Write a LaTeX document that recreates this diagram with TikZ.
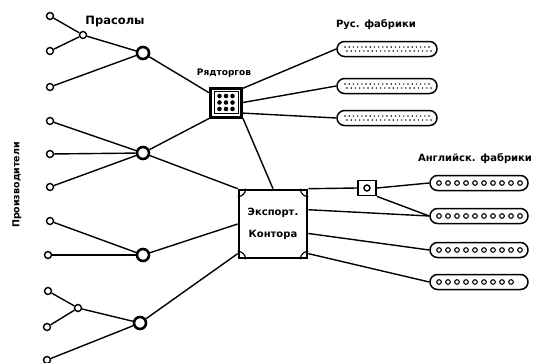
\documentclass[tikz,border=0pt]{standalone}
\usepackage{fontspec}
\setmainfont{DejaVu Sans}
\usetikzlibrary{shapes.misc, positioning, calc}

\tikzset{
  leaf/.style={circle, draw, line width=1.4pt, fill=white, inner sep=0pt, minimum size=7pt},
  hub/.style={circle, draw, line width=2.6pt, fill=white, inner sep=0pt, minimum size=12pt},
  fabpill/.style={rounded rectangle, draw, line width=1.5pt, inner sep=0pt, minimum height=15pt},
  lbl/.style={font=\bfseries\fontsize{10}{12}\selectfont, inner sep=0pt},
  link/.style={line width=1.4pt},
}

\begin{document}
\begin{tikzpicture}[x=1pt, y=-1pt]
    \useasboundingbox (0,0) rectangle (535,362);

    % производители (мелкие кружки)
    \node[leaf] (l1)  at (50,16)  {};
    \node[leaf] (l2)  at (50,51)  {};
    \node[leaf] (l3)  at (50,87)  {};
    \node[leaf] (l4)  at (50,121) {};
    \node[leaf] (l5)  at (50,154) {};
    \node[leaf] (l6)  at (50,187) {};
    \node[leaf] (l7)  at (50,221) {};
    \node[leaf] (l8)  at (48,255) {};
    \node[leaf] (l9)  at (48,291) {};
    \node[leaf] (l10) at (47,327) {};
    \node[leaf] (l11) at (47,360) {};

    % прасолы
    \node[leaf] (m1) at (83,35)  {};
    \node[leaf] (m2) at (78,308) {};

    % узлы
    \node[hub] (h1) at (143,53)  {};
    \node[hub] (h2) at (143,153) {};
    \node[hub] (h3) at (143,255) {};
    \node[hub] (h4) at (140,323) {};

    % рядторгов
    \node[draw, line width=3pt, minimum width=31pt, minimum height=29pt] (ryad) at (226,102.5) {};
    \draw[line width=0.9pt] ([shift={(-12pt,-11pt)}]ryad.center) rectangle ([shift={(12pt,11pt)}]ryad.center);
    \foreach \i in {-1,0,1}
      \foreach \j in {-1,0,1}
        \fill ([shift={(\i*6.5pt,\j*6.5pt)}]ryad.center) circle (2.3pt);

    % экспортная контора
    \node[draw, line width=2.6pt, minimum width=68pt, minimum height=68pt, align=center,
          font=\bfseries\fontsize{10}{12}\selectfont] (export) at (273,224) {Экспорт.\\[10pt]Контора};
    \foreach \c/\sx/\sy in {north west/1/1, north east/-1/1, south west/1/-1, south east/-1/-1}
      \draw[line width=1.2pt] ($(export.\c)+(8*\sx,0)$) .. controls +(0,4.4*\sy) and +(4.4*\sx,0) .. ($(export.\c)+(0,8*\sy)$);

    % малый ящик
    \node[draw, line width=1.8pt, minimum width=18pt, minimum height=15pt] (sbox) at (367,188) {};
    \draw[line width=1.4pt] (sbox.center) circle (3pt);

    % русские фабрики
    \node[fabpill, minimum width=100pt] (r1) at (387,49)  {};
    \node[fabpill, minimum width=100pt] (r2) at (387,86)  {};
    \node[fabpill, minimum width=100pt] (r3) at (387,118) {};
    \foreach \r in {r1,r2,r3}
      \foreach \i in {0,...,20} {
        \fill ([xshift=\i*4.2pt-42pt, yshift=2pt]\r.center) circle (0.8pt);
        \fill ([xshift=\i*4.2pt-40pt, yshift=-2pt]\r.center) circle (0.8pt);
      }

    % английские фабрики
    \node[fabpill, minimum width=98pt] (e1) at (479,183) {};
    \node[fabpill, minimum width=98pt] (e2) at (479,216) {};
    \node[fabpill, minimum width=98pt] (e3) at (479,250) {};
    \node[fabpill, minimum width=98pt] (e4) at (479,282) {};
    \foreach \e/\n in {e1/9, e2/9, e3/9, e4/8}
      \foreach \i in {0,...,\n}
        \draw[line width=1.1pt] ([xshift=\i*9pt-40pt]\e.center) circle (2.3pt);

    % надписи
    \node[lbl, font=\bfseries\fontsize{11.5}{13}\selectfont] (prasoly) at (115,22) {Прасолы};
    \node[lbl, font=\bfseries\fontsize{9}{10}\selectfont] (ryadlbl) at (224,73) {Рядторгов};
    \node[lbl] (ruslbl) at (376,25) {Рус. фабрики};
    \node[lbl] (englbl) at (475,159) {Английск. фабрики};
    \node[lbl, font=\bfseries\fontsize{9.5}{11}\selectfont, rotate=90] (prodlbl) at (17,185) {Производители};

    % связи
    \draw[link] (l1) -- (m1);
    \draw[link] (l2) -- (m1);
    \draw[link] (m1) -- (h1);
    \draw[link] (l3) -- (h1);
    \draw[link] (l4) -- (h2);
    \draw[link] (l5) -- (h2);
    \draw[link] (l6) -- (h2);
    \draw[link] (l7) -- (h3);
    \draw[link] (l8) -- (h3);
    \draw[link] (l9) -- (m2);
    \draw[link] (l10) -- (m2);
    \draw[link] (m2) -- (h4);
    \draw[link] (l11) -- (h4);

    \draw[link] (h1) -- (ryad.150);
    \draw[link] (h2) -- (ryad.south west);
    \draw[link] (h2) -- (export.north west);
    \draw[link] (h3) -- (export.west);
    \draw[link] (h4) -- (export.220);
    \draw[link] (ryad.south east) -- (export.north);

    \draw[link] (ryad.40) -- (r1.west);
    \draw[link] (ryad.east) -- (r2.west);
    \draw[link] (ryad.-32) -- (r3.west);

    \draw[link] (export.north east) -- (sbox.west);
    \draw[link] (sbox.east) -- (e1.west);
    \draw[link] (sbox.south east) -- (e2.west);
    \draw[link] (export.22) -- (e2.west);
    \draw[link] (export.-15) -- (e3.west);
    \draw[link] (export.-40) -- (e4.west);
\end{tikzpicture}
\end{document}
